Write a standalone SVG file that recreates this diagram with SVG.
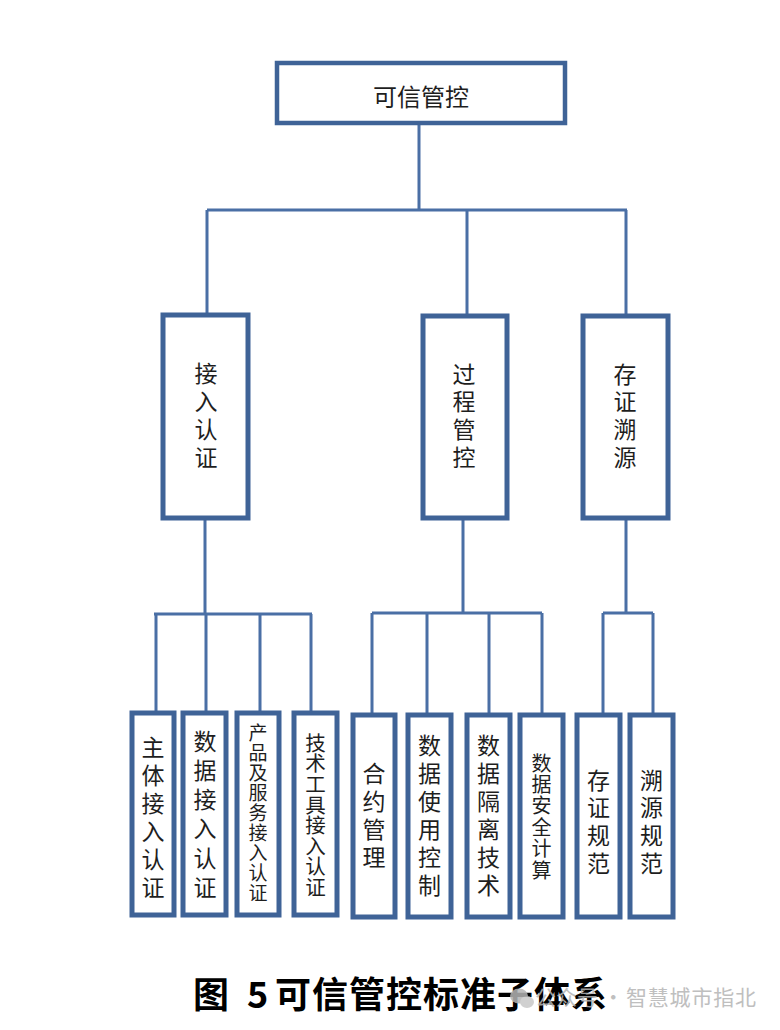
<svg xmlns="http://www.w3.org/2000/svg" width="780" height="1030" viewBox="0 0 780 1030">
<style>
.box{fill:#ffffff;stroke:#3F6397;stroke-width:5}
.top{fill:#ffffff;stroke:#3F6397;stroke-width:4.5}
.ln{fill:none;stroke:#4A6FA5;stroke-width:3}
.t{font-family:"Noto Sans CJK SC","Noto Sans",sans-serif;fill:#1e1e1e;text-anchor:middle;dominant-baseline:central}
.v{font-family:"Noto Sans CJK SC","Noto Sans",sans-serif;fill:#1e1e1e;writing-mode:vertical-rl;text-anchor:start;dominant-baseline:central}
.cap{font-family:"Noto Sans CJK SC","Liberation Sans",sans-serif;font-weight:bold;fill:#000;font-size:36px}
.wm{font-family:"Noto Sans CJK SC","Liberation Sans",sans-serif;fill:#b4b4b4;font-size:21px}
</style>
<rect width="780" height="1030" fill="#ffffff"/>
<g id="connectors">
<path class="ln" d="M419 123V210M207 210H627M207 210V315M467 210V316M626 210V316"/>
<path class="ln" d="M205 518V614M154 614H312M156 614V713M206 614V713M260 614V713M311 614V713"/>
<path class="ln" d="M463 518V613M372 613H542M372 613V715M427 613V715M489 613V715M542 613V715"/>
<path class="ln" d="M626 518V613M603 613H653M603 613V715M653 613V715"/>
</g>
<g id="n-root"><rect class="top" x="277" y="63" width="288" height="60"/><text class="t" x="421" y="95" font-size="24">可信管控</text></g>
<g id="n-jrrz"><rect class="box" x="163" y="315" width="85" height="203"/>
<text class="v" x="206" y="361.5" font-size="23" letter-spacing="5">接入认证</text></g>
<g id="n-gcgk"><rect class="box" x="423" y="316" width="84" height="202"/>
<text class="v" x="464" y="362.5" font-size="23" letter-spacing="4.7">过程管控</text></g>
<g id="n-czsy"><rect class="box" x="583" y="316" width="85" height="202"/>
<text class="v" x="625" y="362.5" font-size="23" letter-spacing="4.7">存证溯源</text></g>

<g id="n-ztjr"><rect class="box" x="132" y="713" width="42" height="202"/>
<text class="v" x="153" y="735.5" font-size="23" letter-spacing="5">主体接入认证</text></g>
<g id="n-sjjr"><rect class="box" x="183" y="713" width="43" height="202"/>
<text class="v" x="205" y="729.5" font-size="23" letter-spacing="6.2">数据接入认证</text></g>
<g id="n-cpfw"><rect class="box" x="237" y="713" width="42" height="202"/>
<text class="v" x="258" y="723.5" font-size="19" letter-spacing="1">产品及服务接入认证</text></g>
<g id="n-jsgj"><rect class="box" x="294" y="713" width="43" height="202"/>
<text class="v" x="315.5" y="732.8" font-size="20.5" letter-spacing="0.1">技术工具接入认证</text></g>

<g id="n-hygl"><rect class="box" x="353" y="715" width="42" height="202"/>
<text class="v" x="374" y="761.5" font-size="23" letter-spacing="5">合约管理</text></g>
<g id="n-sjsy"><rect class="box" x="408" y="715" width="43" height="202"/>
<text class="v" x="429.5" y="733.5" font-size="23" letter-spacing="5">数据使用控制</text></g>
<g id="n-sjgl"><rect class="box" x="467" y="715" width="43" height="202"/>
<text class="v" x="488.5" y="733.5" font-size="23" letter-spacing="5">数据隔离技术</text></g>
<g id="n-sjaq"><rect class="box" x="520" y="715" width="43" height="202"/>
<text class="v" x="541.5" y="753" font-size="20" letter-spacing="1.4">数据安全计算</text></g>

<g id="n-czgf"><rect class="box" x="577" y="715" width="43" height="202"/>
<text class="v" x="598.5" y="768.5" font-size="23" letter-spacing="4.7">存证规范</text></g>
<g id="n-sygf"><rect class="box" x="630" y="715" width="43" height="202"/>
<text class="v" x="651.5" y="768.5" font-size="23" letter-spacing="4.7">溯源规范</text></g>

<g id="caption">
<text class="cap" x="193" y="1008">图</text>
<text class="cap" x="247" y="1008">5</text>
<text class="cap" x="275" y="1008" textLength="332" lengthAdjust="spacing">可信管控标准子体系</text>
</g>
<g id="watermark" opacity="0.85">
<ellipse cx="519" cy="996" rx="9" ry="7.5" fill="#b4b4b4"/>
<ellipse cx="527" cy="1002" rx="7" ry="6" fill="#c8c8c8"/>
<text class="wm" x="535" y="1005">公众号 · </text>
<text class="wm" x="626" y="1005" textLength="130">智慧城市指北</text>
</g>
</svg>
